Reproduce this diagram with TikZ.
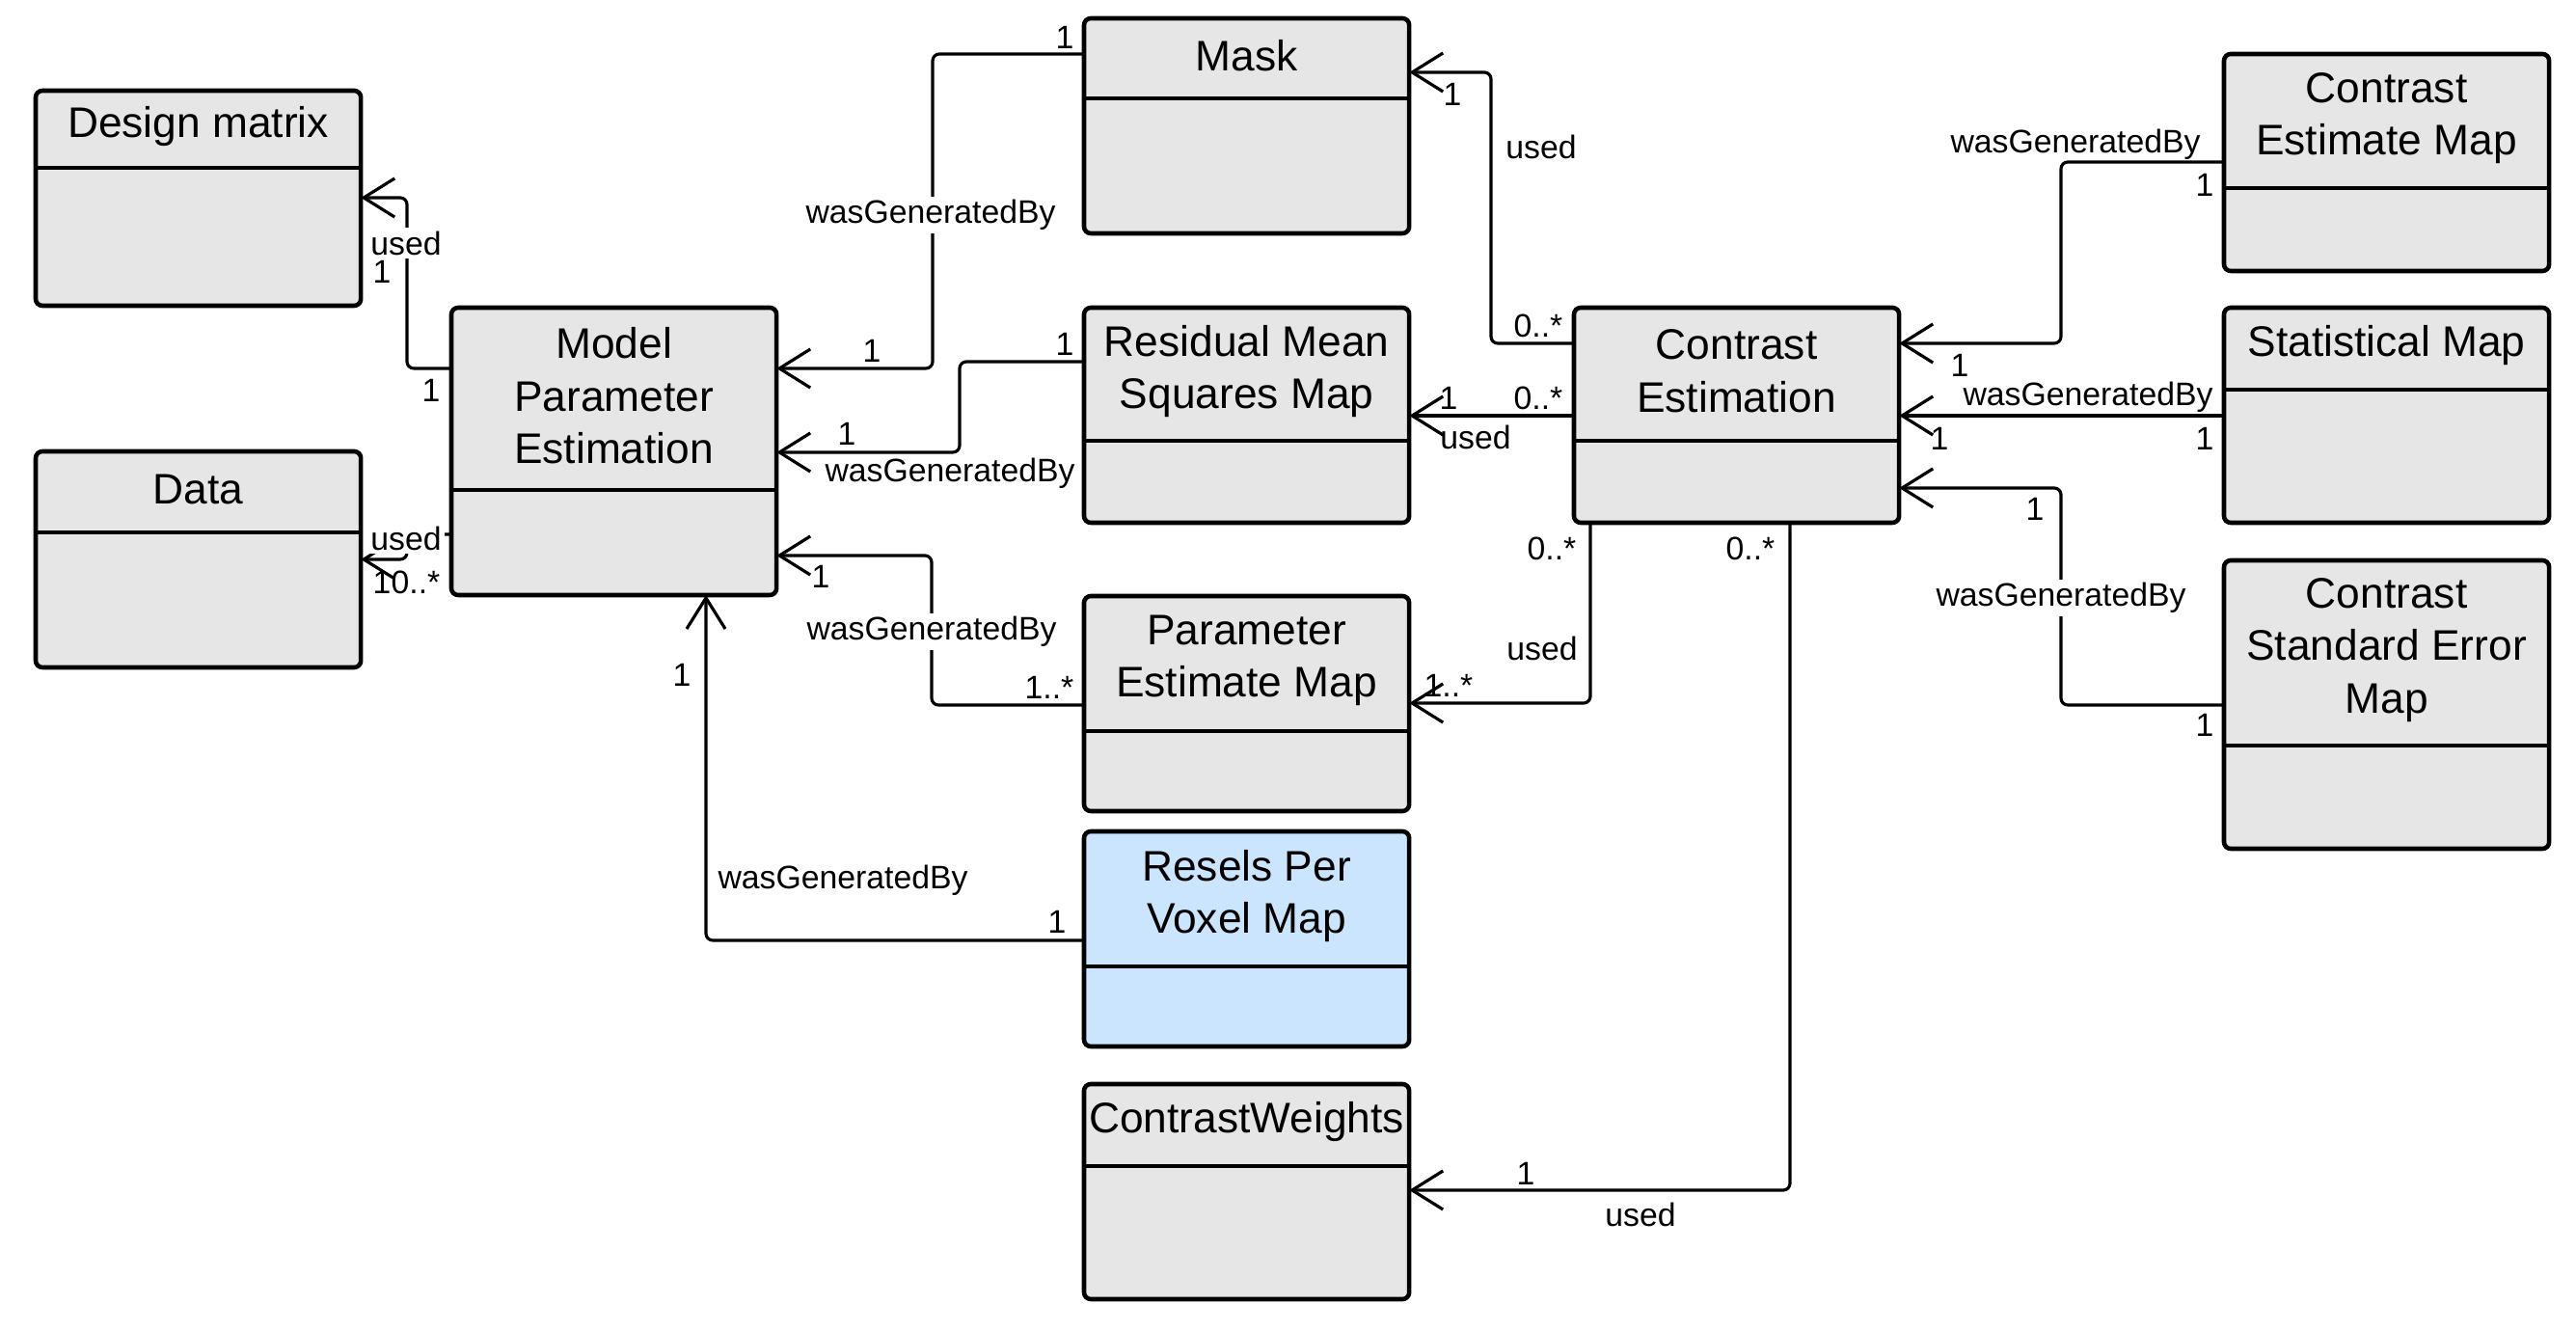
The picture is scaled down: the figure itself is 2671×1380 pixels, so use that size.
\documentclass[tikz,border=0pt]{standalone}
\usepackage{fontspec}
\setmainfont{Liberation Sans}
\usetikzlibrary{arrows.meta,calc}
\definecolor{cgray}{HTML}{E6E6E6}
\definecolor{cblue}{HTML}{CCE5FF}
\tikzset{
  classbox/.style={draw,line width=1.3pt,rounded corners=2pt,minimum width=3.37cm,inner sep=0pt,outer sep=0pt},
  classtitle/.style={align=center,font=\fontsize{12.6}{15.5}\selectfont,inner sep=0pt},
  divider/.style={line width=1.3pt},
  assoc/.style={line width=0.9pt,rounded corners=2pt,-{Straight Barb[length=0.32cm,width=0.4cm]}},
  lbl/.style={font=\fontsize{9.6}{11.5}\selectfont,inner sep=1pt},
  onlbl/.style={lbl,fill=white}
}
\begin{document}
\begin{tikzpicture}[x=0.01cm,y=-0.01cm,line join=round]
  \useasboundingbox (0,0) rectangle (2671,1380);
  % classes: name/x/y/height/header/fill/title
  \foreach \n/\x/\y/\h/\d/\c/\s in {
    dm/37/94/223/80/cgray/{Design matrix},
    data/37/468/224/84/cgray/{Data},
    mpe/468/319/298/189/cgray/{Model\\Parameter\\Estimation},
    mask/1124/19/223/83/cgray/{Mask},
    rms/1124/319/223/138/cgray/{Residual Mean\\Squares Map},
    pem/1124/618/223/140/cgray/{Parameter\\Estimate Map},
    rpv/1124/862/223/140/cblue/{Resels Per\\Voxel Map},
    cw/1124/1124/223/85/cgray/{ContrastWeights},
    ce/1632/319/223/138/cgray/{Contrast\\Estimation},
    cem/2306/56/225/139/cgray/{Contrast\\Estimate Map},
    sm/2306/319/223/85/cgray/{Statistical Map},
    csem/2306/581/299/192/cgray/{Contrast\\Standard Error\\Map}}
  {
    \node[classbox,fill=\c,minimum height=\h*0.01cm,anchor=north west] (\n) at (\x,\y) {};
    \node[classtitle] (\n-t) at ($(\n.north)+(0,{\d/2-3})$) {\s};
    \draw[divider] ($(\n.north west)+(0,\d)$) -- ($(\n.north east)+(0,\d)$);
  }
  % associations
  \draw[assoc] ($(mpe.north west)+(0,63)$) -- ++(-46,0) |- ($(dm.north east)+(0,111)$);
  \draw[assoc] ($(mpe.north west)+(0,235)$) -- ++(-46,0) |- ($(data.north east)+(0,112)$);
  \draw[assoc] ($(mask.north west)+(0,37)$) -- ++(-157,0) |- ($(mpe.north east)+(0,63)$);
  \draw[assoc] ($(rms.north west)+(0,56)$) -- ++(-129,0) |- ($(mpe.north east)+(0,150)$);
  \draw[assoc] ($(pem.north west)+(0,113)$) -- ++(-158,0) |- ($(mpe.north east)+(0,257)$);
  \draw[assoc] ($(rpv.north west)+(0,113)$) -| ($(mpe.south west)+(264,0)$);
  \draw[assoc] ($(ce.north west)+(0,37)$) -- ++(-86,0) |- ($(mask.north east)+(0,56)$);
  \draw[assoc] ($(ce.north west)+(0,112)$) -- ($(rms.north east)+(0,112)$);
  \draw[assoc] ($(ce.south west)+(17,0)$) |- ($(pem.north east)+(0,111)$);
  \draw[assoc] ($(ce.south west)+(224,0)$) |- ($(cw.north east)+(0,110)$);
  \draw[assoc] ($(cem.north west)+(0,112)$) -- ++(-169,0) |- ($(ce.north east)+(0,37)$);
  \draw[assoc] ($(sm.north west)+(0,112)$) -- ($(ce.north east)+(0,112)$);
  \draw[assoc] ($(csem.north west)+(0,150)$) -- ++(-169,0) |- ($(ce.north east)+(0,187)$);
  % role names and multiplicities
  \foreach \x/\y/\s [count=\i] in {
    396/282/1, 447/405/1, 396/604/1, 431/604/0..*,
    1104/39/1, 904/364/1,
    1104/357/1, 878/450/1, 985/491/wasGeneratedBy,
    851/598/1, 1088/713/1..*,
    707/700/1, 874/913/wasGeneratedBy, 1096/956/1,
    1506/98/1, 1598/152/used, 1595/338/0..*,
    1502/413/1, 1595/413/0..*, 1530/453/used,
    1609/569/0..*, 1599/672/used, 1502/711/1..*,
    1815/569/0..*, 1582/1217/1, 1701/1259/used,
    2152/150/wasGeneratedBy, 2286/192/1, 2032/379/1,
    2165/412/wasGeneratedBy, 2011/455/1, 2286/455/1,
    2110/528/1, 2286/752/1}
    \node[lbl] (m\i) at (\x,\y) {\s};
  \foreach \x/\y/\s [count=\i] in {
    421/252/used, 421/558/used, 965/223/wasGeneratedBy,
    966/655/wasGeneratedBy, 2137/620/wasGeneratedBy}
    \node[onlbl] (r\i) at (\x,\y) {\s};
\end{tikzpicture}
\end{document}
